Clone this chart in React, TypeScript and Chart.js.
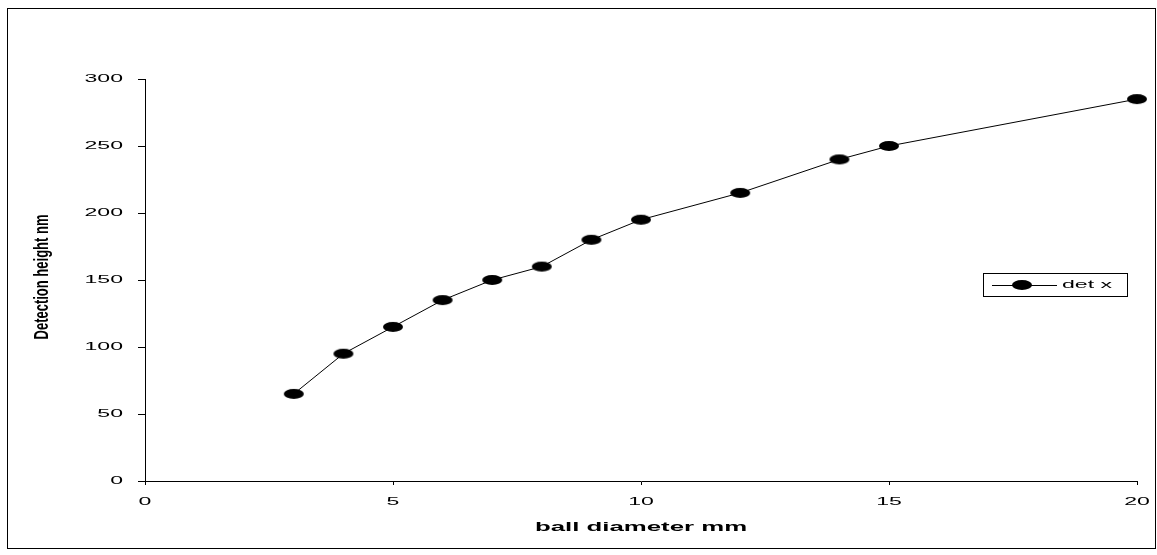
import React, { useEffect, useRef } from "react";
import { Chart, registerables } from "chart.js";

Chart.register(...registerables);

const diameters = [3, 4, 5, 6, 7, 8, 9, 10, 12, 14, 15, 20];
const heights = [65, 95, 115, 135, 150, 160, 180, 195, 215, 240, 250, 285];
const seriesName = "det x";
const xTitle = "ball diameter mm";
const yTitle = "Detection height nm";
const xTicks = [0, 5, 10, 15, 20];
const yTicks = [0, 50, 100, 150, 200, 250, 300];

const FONT = "'Liberation Sans', Arial, sans-serif";
const SX = 2.1;

function makeMarker(): HTMLCanvasElement {
  const c = document.createElement("canvas");
  c.width = 22;
  c.height = 12;
  const g = c.getContext("2d")!;
  g.fillStyle = "#000";
  g.beginPath();
  g.ellipse(11, 6, 10, 5, 0, 0, Math.PI * 2);
  g.fill();
  return c;
}

function stretchedText(ctx: CanvasRenderingContext2D, text: string, x: number, y: number, align: CanvasTextAlign, font: string, sx = SX) {
  ctx.save();
  ctx.translate(x, y);
  ctx.scale(sx, 1);
  ctx.font = font;
  ctx.fillStyle = "#000";
  ctx.textAlign = align;
  ctx.textBaseline = "middle";
  ctx.fillText(text, 0, 0);
  ctx.restore();
}

export default function App() {
  const ref = useRef<HTMLCanvasElement | null>(null);
  useEffect(() => {
    const canvas = ref.current!;
    const marker = makeMarker();
    const textPlugin = {
      id: "textPlugin",
      beforeDraw(chart: any) {
        const ctx = chart.ctx as CanvasRenderingContext2D;
        ctx.save();
        ctx.fillStyle = "#fff";
        ctx.fillRect(0, 0, chart.width, chart.height);
        ctx.strokeStyle = "#000";
        ctx.lineWidth = 1;
        ctx.strokeRect(7.5, 8.5, 1148, 540);
        ctx.restore();
      },
      afterDraw(chart: any) {
        const ctx = chart.ctx as CanvasRenderingContext2D;
        const xs = chart.scales.x;
        const ys = chart.scales.y;
        const tickFont = `11px ${FONT}`;
        yTicks.forEach((v) => {
          stretchedText(ctx, String(v), 123, ys.getPixelForValue(v), "right", tickFont);
        });
        xTicks.forEach((v) => {
          stretchedText(ctx, String(v), xs.getPixelForValue(v), 502, "center", tickFont);
        });
        // x title
        stretchedText(ctx, xTitle, (xs.left + xs.right) / 2, 528, "center", `bold 12px ${FONT}`, 2.15);
        // y title (rotated, stretched across letter height)
        ctx.save();
        ctx.translate(42, 277);
        ctx.rotate(-Math.PI / 2);
        ctx.scale(1, 1.6);
        ctx.font = `bold 13px ${FONT}`;
        ctx.fillStyle = "#000";
        ctx.textAlign = "center";
        ctx.textBaseline = "middle";
        ctx.fillText(yTitle, 0, 0);
        ctx.restore();
        // legend
        ctx.save();
        ctx.strokeStyle = "#000";
        ctx.lineWidth = 1;
        ctx.strokeRect(983.5, 273.5, 144, 23);
        ctx.beginPath();
        ctx.moveTo(992, 285.5);
        ctx.lineTo(1057, 285.5);
        ctx.stroke();
        ctx.drawImage(marker, 1022 - 11, 285 - 6);
        ctx.restore();
        stretchedText(ctx, seriesName, 1062, 285, "left", tickFont);
      },
    };

    const chart = new Chart(canvas, {
      type: "line",
      data: {
        datasets: [
          {
            label: seriesName,
            data: diameters.map((d, i) => ({ x: d, y: heights[i] })),
            borderColor: "#000",
            borderWidth: 1,
            backgroundColor: "#000",
            pointStyle: marker as any,
            pointRadius: 5,
            clip: false as any,
            tension: 0,
          },
        ],
      },
      options: {
        responsive: false,
        animation: false,
        devicePixelRatio: 1,
        layout: { padding: { left: 0, right: 20, top: 79, bottom: 0 } },
        plugins: { legend: { display: false }, tooltip: { enabled: false }, title: { display: false } },
        scales: {
          x: {
            type: "linear",
            min: 0,
            max: 20,
            afterBuildTicks: (s: any) => {
              s.ticks = xTicks.map((v) => ({ value: v }));
            },
            afterFit: (s: any) => {
              s.height = 74;
            },
            ticks: { display: false },
            grid: { display: true, drawOnChartArea: false, drawTicks: true, tickLength: 4, color: "#000", lineWidth: 1 },
            border: { display: true, color: "#000", width: 1 },
          },
          y: {
            type: "linear",
            min: 0,
            max: 300,
            afterBuildTicks: (s: any) => {
              s.ticks = yTicks.map((v) => ({ value: v }));
            },
            afterFit: (s: any) => {
              s.width = 145;
            },
            ticks: { display: false },
            grid: { display: true, drawOnChartArea: false, drawTicks: true, tickLength: 7, color: "#000", lineWidth: 1 },
            border: { display: true, color: "#000", width: 1 },
          },
        },
      },
      plugins: [textPlugin],
    } as any);
    return () => chart.destroy();
  }, []);
  return (
    <div style={{ position: "fixed", left: 0, top: 0, width: 1157, height: 555, background: "#fff" }}>
      <canvas ref={ref} width={1157} height={555} style={{ display: "block", width: 1157, height: 555 }} />
    </div>
  );
}
